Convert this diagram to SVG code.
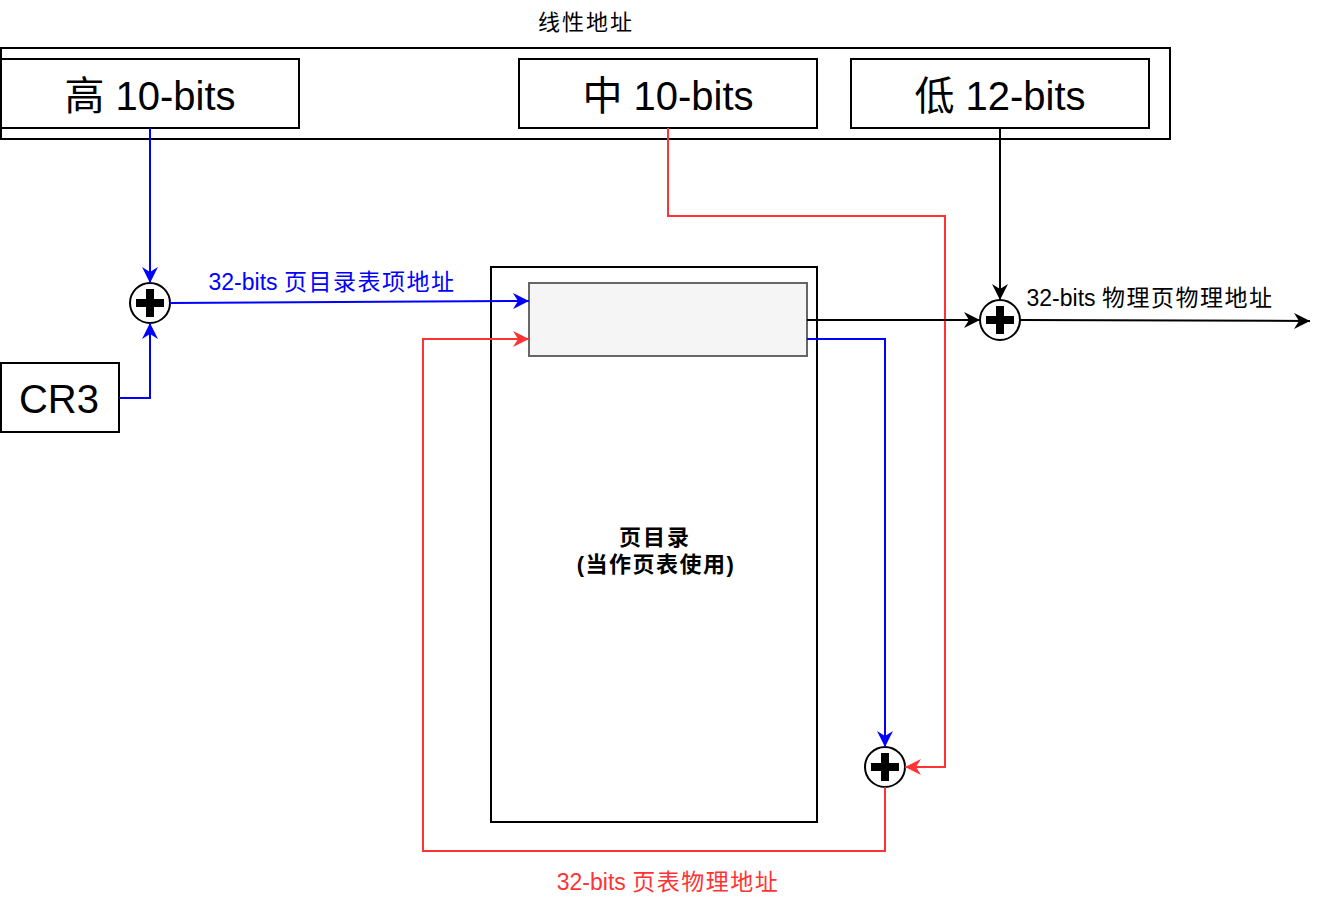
<svg xmlns="http://www.w3.org/2000/svg" width="1328" height="904" viewBox="0 0 1328 904">
<style>
.box{fill:#fff;stroke:#000;stroke-width:2}
.big{font-family:"Liberation Sans","Noto Sans CJK SC",sans-serif;font-size:40px;fill:#000;text-anchor:middle}
.lbl{font-family:"Liberation Sans","Noto Sans CJK SC",sans-serif;font-size:22px;text-anchor:middle}
.edge{font-size:23px}
.cjk{letter-spacing:1.5px}
.c{fill:none;stroke-width:2}
.plus circle{fill:#fff;stroke:#000;stroke-width:2}
.plus rect{fill:#000}
</style>
<defs>
<marker id="ab" markerUnits="userSpaceOnUse" markerWidth="18" markerHeight="16" refX="16" refY="8" orient="auto"><path d="M0,0 L16,8 L0,16 L5,8 z" fill="#0000ff"/></marker>
<marker id="ar" markerUnits="userSpaceOnUse" markerWidth="18" markerHeight="16" refX="16" refY="8" orient="auto"><path d="M0,0 L16,8 L0,16 L5,8 z" fill="#ff3333"/></marker>
<marker id="ak" markerUnits="userSpaceOnUse" markerWidth="18" markerHeight="16" refX="16" refY="8" orient="auto"><path d="M0,0 L16,8 L0,16 L5,8 z" fill="#000"/></marker>
</defs>
<rect width="1328" height="904" fill="#fff"/>
<g id="linear-address">
<text class="lbl" x="586" y="30" fill="#000" style="letter-spacing:2px">线性地址</text>
<rect class="box" x="1" y="48" width="1169" height="91"/>
</g>
<g id="high"><rect class="box" x="1" y="59" width="298" height="69"/><text class="big" x="150" y="110">高 10-bits</text></g>
<g id="mid"><rect class="box" x="519" y="59" width="298" height="69"/><text class="big" x="668" y="110">中 10-bits</text></g>
<g id="low"><rect class="box" x="851" y="59" width="298" height="69"/><text class="big" x="1000" y="110">低 12-bits</text></g>
<g id="cr3"><rect class="box" x="1" y="363" width="118" height="69"/><text class="big" x="59" y="413">CR3</text></g>
<g id="page-dir">
<rect class="box" x="491" y="267" width="326" height="555"/>
<text class="lbl" x="655" y="545" font-weight="bold" fill="#000" style="letter-spacing:2px">页目录</text>
<text class="lbl" x="656" y="572" font-weight="bold" fill="#000" style="letter-spacing:1.5px">(当作页表使用)</text>
</g>
<g id="entry"><rect x="529" y="283" width="278" height="73" fill="#f5f5f5" stroke="#666" stroke-width="2"/></g>
<g id="plus1" class="plus"><circle cx="150" cy="303" r="20"/><rect x="136" y="299" width="28" height="8"/><rect x="146" y="289" width="8" height="28"/></g>
<g id="plus2" class="plus"><circle cx="1000" cy="320" r="20"/><rect x="986" y="316" width="28" height="8"/><rect x="996" y="306" width="8" height="28"/></g>
<g id="plus3" class="plus"><circle cx="885" cy="767" r="20"/><rect x="871" y="763" width="28" height="8"/><rect x="881" y="753" width="8" height="28"/></g>
<g id="connectors">
<path class="c" stroke="#0000ff" d="M150,128 V283" marker-end="url(#ab)"/>
<path class="c" stroke="#0000ff" d="M119,398 H150 V323" marker-end="url(#ab)"/>
<path class="c" stroke="#0000ff" d="M170,303 L529,301" marker-end="url(#ab)"/>
<path class="c" stroke="#0000ff" d="M807,339 H885 V747" marker-end="url(#ab)"/>
<path class="c" stroke="#ff3333" d="M668,128 V216 H945 V767 H905" marker-end="url(#ar)"/>
<path class="c" stroke="#ff3333" d="M885,787 V851 H423 V339 H529" marker-end="url(#ar)"/>
<path class="c" stroke="#000" d="M1000,128 V300" marker-end="url(#ak)"/>
<path class="c" stroke="#000" d="M807,320 H980" marker-end="url(#ak)"/>
<path class="c" stroke="#000" d="M1020,320 L1310,321" marker-end="url(#ak)"/>
<text class="lbl edge" x="332" y="290" fill="#0000ff">32-bits <tspan class="cjk">页目录表项地址</tspan></text>
<text class="lbl edge" x="1150" y="306" fill="#000">32-bits <tspan class="cjk">物理页物理地址</tspan></text>
<text class="lbl edge" x="668" y="890" fill="#ff3333">32-bits <tspan class="cjk">页表物理地址</tspan></text>
</g>
</svg>
